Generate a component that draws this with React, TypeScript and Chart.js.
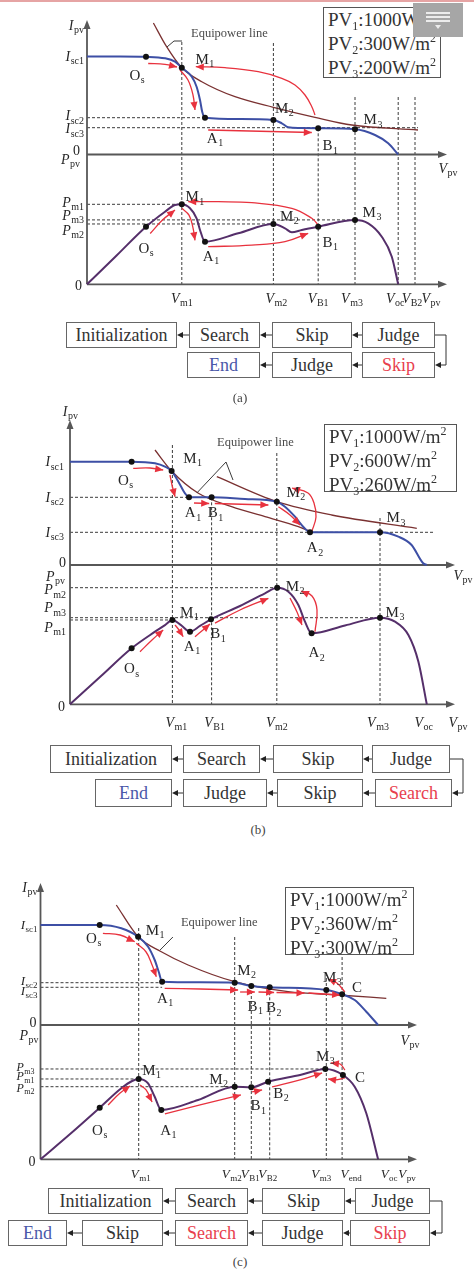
import React, { useEffect, useRef } from "react";
import { Chart, registerables } from "chart.js";

Chart.register(...registerables);

type P2 = [number, number];
type Lbl = [string, string, number, number];
type Tick = [number, string, number];

const FONT = '"Liberation Serif", "Times New Roman", Times, serif';
const BLUE = "#3d4fa5";
const PURPLE = "#552f6a";
const RED = "#e8323e";
const EQC = "#7a3131";
const AXIS = "#575757";
const GUIDE = "#3c3c3c";
const INK = "#262626";

// ================= (a) PV1 1000, PV2 300, PV3 200 W/m2 =================
const A_IV: P2[] = [[0, 9.8], [8.25, 9.8], [14.75, 9.77], [19.5, 9.62], [22, 9.28], [23.7, 8.68], [26.2, 7.78], [27.4, 6.78], [28.25, 5.45], [28.8, 4.28], [29.5, 3.68], [38.25, 3.55], [46.6, 3.45], [48.7, 3.12], [50.3, 2.72], [53.25, 2.65], [57.8, 2.62], [67, 2.52], [72, 1.95], [75.3, 1.12], [77.8, 0]];
const A_PV: P2[] = [[0, 0], [7.4, 72], [14.75, 144], [19.5, 181.5], [22, 198.3], [23.7, 200], [25.75, 190], [27.4, 165], [28.25, 135.8], [29.5, 106.5], [37.8, 127.5], [46.6, 150.8], [49.5, 140], [51.2, 130], [53.7, 135.8], [57.8, 144], [67, 160.8], [70.3, 152.5], [73.7, 119], [76.2, 69], [77.8, 0]];
const A_EQ: P2[] = [[16.6, 13.15], [19.9, 10.78], [23.7, 8.68], [28.7, 7.28], [37, 5.78], [46.6, 4.72], [57, 3.72], [66.2, 2.95], [82.75, 2.45]];
const A_IV_PTS: P2[] = [[14.75, 9.77], [23.7, 8.68], [29.5, 3.68], [46.6, 3.45], [57.8, 2.62], [67, 2.52]];
const A_PV_PTS: P2[] = [[14.75, 144], [23.7, 200], [29.5, 106.5], [46.6, 150.8], [57.8, 144], [67, 160.8]];
const A_IV_ARROWS: P2[][] = [
  [[15.3, 9.1], [19.5, 9.02], [22.5, 8.75]],
  [[23.25, 8.45], [25.25, 7.45], [26.5, 5.95], [27, 4.45]],
  [[30.3, 2.45], [56.2, 2.2]],
  [[57, 3.95], [56.2, 4.78], [54.5, 5.95], [52, 6.95], [48.7, 7.62], [42.8, 8.28], [34.5, 8.68], [27.2, 8.78]],
];
const A_PV_ARROWS: P2[][] = [
  [[15.8, 127], [18.8, 160], [22, 186]],
  [[23.7, 190], [25.5, 173], [26.5, 141], [27, 110]],
  [[30.3, 94], [41.2, 98], [49.5, 106.5], [55.3, 127.5]],
  [[57.8, 148], [56.2, 165], [51.2, 190], [41.2, 204], [32.8, 206.5], [25.3, 206.5]],
];
const A_ISC = [9.8, 3.68, 2.68];
const A_PM = [200, 150.8, 161];
const A_V = { m1: 23.7, m2: 46.6, B1: 57.8, m3: 67, oc: 77.8, B2: 82 };
const A_LEGEND = [1000, 300, 200];

// ================= (b) PV1 1000, PV2 600, PV3 260 W/m2 =================
const B_IV: P2[] = [[0, 10.33], [7.5, 10.33], [15.4, 10.33], [21.25, 10.17], [23.75, 9.83], [25.4, 9.4], [27.1, 8.33], [28.75, 7.17], [29.75, 6.77], [35.4, 6.77], [43.75, 6.6], [51.7, 6.33], [53.75, 5.83], [56.25, 4.83], [58.3, 3.83], [60, 3.27], [68.75, 3.27], [77.5, 3.27], [82.1, 2.83], [85.4, 2.0], [88.3, 0.17], [89.2, 0]];
const B_PV: P2[] = [[0, 0], [7.7, 70], [15.4, 140], [21.25, 181.5], [23.75, 198], [25.6, 210.8], [27.75, 198], [30, 181.5], [32.5, 195.8], [35.25, 212.5], [42.5, 245.8], [48.75, 277.5], [51.8, 291.5], [54.6, 281.5], [57.1, 248.3], [58.75, 206.5], [60.4, 177.5], [68.75, 197], [77.5, 216.5], [81.25, 206.5], [84.6, 173.3], [87.1, 106.5], [89.2, 0]];
const B_EQ1: P2[] = [[21.25, 11.5], [25.4, 9.4], [32.1, 7.17], [40.4, 5.83], [48.75, 4.83], [57.1, 3.83], [60.4, 3.3]];
const B_EQ2: P2[] = [[36.7, 8.83], [51.7, 6.33], [65.4, 5.0], [86.7, 3.67]];
const B_IV_PTS: P2[] = [[15.4, 10.33], [25.4, 9.4], [29.75, 6.77], [35.4, 6.77], [51.7, 6.33], [60, 3.27], [77.5, 3.27]];
const B_PV_PTS: P2[] = [[15.4, 140], [25.6, 210.8], [30, 181.5], [35.25, 212.5], [51.8, 291.5], [60.4, 177.5], [77.5, 216.5]];
const B_IV_ARROWS: P2[][] = [
  [[15.8, 9.67], [20, 9.7], [23.3, 9.5]],
  [[25, 9.0], [25.5, 8.0], [26.25, 6.83]],
  [[31, 6.2], [34.8, 6.15]],
  [[36.2, 6.15], [49.6, 6.0]],
  [[52.1, 5.83], [55, 5.0], [57.5, 4.0]],
  [[60.5, 3.4], [61.5, 4.8], [61, 6.2], [59.5, 7.2], [55.5, 7.7]],
];
const B_PV_ARROWS: P2[][] = [
  [[17.5, 131.5], [20.5, 160.8], [23.3, 185.8]],
  [[26.25, 198.3], [27.25, 185.8], [28.3, 169]],
  [[31.25, 169], [33.25, 185.8], [35, 200.8]],
  [[36.25, 203], [42.5, 235.8], [49.6, 265]],
  [[55, 265.8], [56.75, 230.8], [58, 198.3]],
  [[61.25, 181.5], [61.75, 235.8], [60.5, 270.8], [57.75, 283.3]],
];
const B_ISC = [10.33, 6.77, 3.27];
const B_PM = [210.8, 291.5, 216.5];
const B_V = { m1: 25.6, B1: 35.4, m2: 51.7, m3: 77.5, oc: 89.2 };
const B_LEGEND = [1000, 600, 260];

// ================= (c) PV1 1000, PV2 360, PV3 300 W/m2 =================
const C_IV: P2[] = [[0, 10], [7.4, 10], [14.8, 10], [20.2, 9.67], [24.4, 8.83], [26.9, 7.83], [28.55, 6.5], [29.55, 5.33], [30.4, 4.33], [39.9, 4.27], [48.55, 4.23], [52.7, 3.9], [57.3, 3.77], [71.45, 3.5], [75.4, 3.07], [78.55, 2.5], [81.45, 1.33], [84.4, 0]];
const C_PV: P2[] = [[0, 0], [7.4, 63.3], [14.8, 129], [20.2, 177.5], [22.9, 195.8], [24.55, 200.8], [26.9, 190], [28.55, 156.5], [30.2, 123.3], [39.4, 148.3], [48.55, 181.5], [52.7, 180], [56.9, 194], [64.9, 210.8], [71.2, 225.8], [75.6, 210.8], [78.55, 181.5], [81.45, 115], [84.4, 0]];
const C_EQ: P2[] = [[18.95, 12], [24.4, 8.83], [30.2, 7.33], [36.9, 6.0], [48.55, 4.33], [61.9, 3.33], [74.4, 3.0], [86.45, 2.67]];
const C_IV_PTS: P2[] = [[14.8, 10], [24.4, 8.83], [30.4, 4.33], [48.55, 4.23], [52.7, 3.9], [57.3, 3.77], [71.45, 3.5], [75.4, 3.07]];
const C_PV_PTS: P2[] = [[14.8, 129], [24.55, 200.8], [30.2, 123.3], [48.55, 181.5], [52.7, 180], [56.9, 194], [71.2, 225.8], [75.6, 210.8]];
const C_IV_ARROWS: P2[][] = [
  [[15.6, 9.17], [19.9, 9.0], [23.55, 8.33]],
  [[23.95, 8.17], [26.4, 7.3], [27.9, 6.0], [28.95, 4.83]],
  [[31.05, 3.67], [39.9, 3.6], [49.4, 3.5]],
  [[49.9, 3.3], [53.6, 3.3]],
  [[54.5, 3.3], [58.4, 3.25]],
  [[59, 3.25], [66, 3.2]],
  [[67, 3.2], [74.9, 3.0]],
  [[76.1, 3.3], [74.1, 4.2], [71.9, 4.6]],
];
const C_PV_ARROWS: P2[][] = [
  [[16.9, 135.8], [19.9, 165.8], [22.4, 183.3]],
  [[24.9, 185.8], [26.4, 173.3], [27.9, 143.3]],
  [[31.1, 113.3], [39.9, 135.8], [50.1, 160.8]],
  [[52.9, 168.3], [55.4, 173.3]],
  [[57.9, 180.8], [64.9, 198.3], [70.4, 215.8]],
  [[76.1, 223.3], [74.9, 238.3], [72.6, 240.8]],
  [[76.1, 203.3], [73.6, 198.3], [71.9, 200.8]],
];
const C_ISC = [10, 4.23, 3.77];
const C_PM = [200.8, 181.5, 225.8];
const C_V = { m1: 24.55, m2: 48.55, B1: 52.7, B2: 57.3, m3: 71.45, end: 75.4, oc: 84.4 };
const C_LEGEND = [1000, 360, 300];

// ================= flow charts =================
const A_FLOW1 = ["Initialization", "Search", "Skip", "Judge"];
const A_FLOW2 = ["End", "Judge", "Skip"];
const A_FLOW2_COL = ["blue", "", "red"];
const B_FLOW1 = ["Initialization", "Search", "Skip", "Judge"];
const B_FLOW2 = ["End", "Judge", "Skip", "Search"];
const B_FLOW2_COL = ["blue", "", "", "red"];
const C_FLOW1 = ["Initialization", "Search", "Skip", "Judge"];
const C_FLOW2 = ["End", "Skip", "Search", "Judge", "Skip"];
const C_FLOW2_COL = ["blue", "", "red", "", "red"];

// ================= layout specs =================
const SPECS: any[] = [
  {
    key: "a", top: 0, height: 312, x0: 87, xEnd: 447, iZero: 154.5, pZero: 284.3, areaTop: 10,
    vpx: 0.25, ipx: 0.1, ppx: 2.5, iTop: 13.45,
    iv: A_IV, pv: A_PV, eq: [A_EQ], ivPts: A_IV_PTS, pvPts: A_PV_PTS, ivArrows: A_IV_ARROWS, pvArrows: A_PV_ARROWS,
    vGuides: [[A_V.m1, 11.25], [A_V.m2, 11.15], [A_V.B1, A_ISC[2] - 0.06], [A_V.m3, 5.75], [A_V.oc, 5.75], [A_V.B2, 5.75]],
    hI: [[A_ISC[1], 29.5], [A_ISC[2], 82.75]],
    hP: [[A_PM[0], A_V.m1], [A_PM[2], A_V.m3], [A_PM[1], A_V.m2]],
    vTicks: [[A_V.m1, "m1", 0], [A_V.m2, "m2", 3], [A_V.B1, "B1", 0], [A_V.m3, "m3", -3], [A_V.oc, "oc", -3], [A_V.B2, "B2", -3]] as Tick[],
    iTicks: [[A_ISC[0], "sc1", 0], [A_ISC[1], "sc2", -2], [A_ISC[2], "sc3", 1]] as Tick[],
    pTicks: [[A_PM[0], "m1", -2], [A_PM[2], "m3", -5], [A_PM[1], "m2", 6]] as Tick[],
    tickSize: 14, pTickSize: 14, iGap: 3, pGap: 3,
    ivLbl: [["O", "s", -9, 18], ["M", "1", 23, -9], ["A", "1", 10, 20], ["M", "2", 11, -12], ["B", "1", 12, 17], ["M", "3", 18, -10]] as Lbl[],
    pvLbl: [["O", "s", 0, 21], ["M", "1", 13, -8], ["A", "1", 6, 14], ["M", "2", 16, -8], ["B", "1", 12, 15], ["M", "3", 17, -8]] as Lbl[],
    eqText: [26, 12.05], eqLeader: [[[20, 10.75], [21.75, 11.35], [23.75, 11.35]]],
    names: { ipv: [-3, 5], zero: [-7, -4], ppv: [-7, 5], vpvI: [1, 14], origin: [-5, 1], vTickDy: 14, vpvB: [-16, 14] },
  },
  {
    key: "b", top: 400, height: 340, x0: 70, xEnd: 455, iZero: 565, pZero: 704.3, areaTop: 10,
    vpx: 0.25, ipx: 0.1, ppx: 2.5, iTop: 14.5,
    iv: B_IV, pv: B_PV, eq: [B_EQ1, B_EQ2], ivPts: B_IV_PTS, pvPts: B_PV_PTS, ivArrows: B_IV_ARROWS, pvArrows: B_PV_ARROWS,
    vGuides: [[B_V.m1, 12], [B_V.B1, B_ISC[1]], [B_V.m2, 11.2], [B_V.m3, 4.7]],
    hI: [[B_ISC[1], 29.75], [B_ISC[2], 91.25]],
    hP: [[B_PM[1], 51.8], [B_PM[2], B_V.m3], [B_PM[0], B_V.m1]],
    vTicks: [[B_V.m1, "m1", 4], [B_V.B1, "B1", 3], [B_V.m2, "m2", 0], [B_V.m3, "m3", -2], [B_V.oc, "oc", -3]] as Tick[],
    iTicks: [[B_ISC[0], "sc1", 0], [B_ISC[1], "sc2", 0], [B_ISC[2], "sc3", 0]] as Tick[],
    pTicks: [[B_PM[1], "m2", 2], [B_PM[2], "m3", -10], [B_PM[0], "m1", 7]] as Tick[],
    tickSize: 14, pTickSize: 14, iGap: 6, pGap: 4,
    ivLbl: [["O", "s", -6, 18], ["M", "1", 21, -13], ["A", "1", 4, 15], ["B", "1", 4, 15], ["M", "2", 19, -10], ["A", "2", 5, 15], ["M", "3", 16, -15]] as Lbl[],
    pvLbl: [["O", "s", 0, 20], ["M", "1", 17, -8], ["A", "1", 2, 14], ["B", "1", 7, 14], ["M", "2", 18, -2], ["A", "2", 5, 19], ["M", "3", 15, -6]] as Lbl[],
    eqText: [36.75, 12.2], eqLeader: [[[31.7, 7.2], [39, 10.3], [40.75, 8.5]]],
    names: { ipv: [8, -9], zero: [-4, -3], ppv: [-5, 11], vpvI: [8, 10], origin: [-5, 2], vTickDy: 18, vpvB: [3, 18] },
  },
  {
    key: "c", top: 870, height: 315, x0: 40.5, xEnd: 417, iZero: 1025, pZero: 1159.3, areaTop: 10,
    vpx: 0.25, ipx: 0.1, ppx: 2.5, iTop: 14.2,
    iv: C_IV, pv: C_PV, eq: [C_EQ], ivPts: C_IV_PTS, pvPts: C_PV_PTS, ivArrows: C_IV_ARROWS, pvArrows: C_PV_ARROWS,
    vGuides: [[C_V.m1, 9.7], [C_V.m2, 8.8], [C_V.B1, 3.9], [C_V.B2, 3.77], [C_V.m3, 5.2], [C_V.end, 6.8]],
    hI: [[C_ISC[1], 30.4], [C_ISC[2], 30.4]],
    hP: [[C_PM[2], 71.2], [C_PM[0], C_V.m1], [C_PM[1], C_V.m2]],
    vTicks: [[C_V.m1, "m1", 2], [C_V.m2, "m2", -3], [C_V.B1, "B1", -1], [C_V.B2, "B2", -2], [C_V.m3, "m3", -5], [C_V.end, "end", 9], [C_V.oc, "oc", 11]] as Tick[],
    iTicks: [[C_ISC[0], "sc1", 0], [C_ISC[1], "sc2", -2], [C_ISC[2], "sc3", 3]] as Tick[],
    pTicks: [[C_PM[2], "m3", -2], [C_PM[0], "m1", -3], [C_PM[1], "m2", 1]] as Tick[],
    tickSize: 13, pTickSize: 12, iGap: 3, pGap: 6,
    ivLbl: [["O", "s", -6, 13], ["M", "1", 17, -7], ["A", "1", 3, 16], ["M", "2", 12, -13], ["B", "1", 4, 20], ["B", "2", 4, 20], ["M", "3", 6, -13], ["C", "", 15, -7]] as Lbl[],
    pvLbl: [["O", "s", 0, 22], ["M", "1", 13, -9], ["A", "1", 7, 20], ["M", "2", -16, -8], ["B", "1", 7, 18], ["B", "2", 13, 11], ["M", "3", 0, -13], ["C", "", 17, 2]] as Lbl[],
    eqText: [35.1, 10.2], eqLeader: [[[29.9, 7.5], [33.1, 8.8]]],
    names: { ipv: [-3, 4], zero: [-4, -3], ppv: [-2, 10], vpvI: [-7, 15], origin: [-5, 2], vTickDy: 14, vpvB: [-10, 14] },
  },
];

// ================= drawing helpers =================
function head(ctx: any, x: number, y: number, ang: number, len: number, hw: number) {
  const bx = x - len * Math.cos(ang), by = y - len * Math.sin(ang);
  const px = -Math.sin(ang) * hw, py = Math.cos(ang) * hw;
  ctx.beginPath();
  ctx.moveTo(x, y);
  ctx.lineTo(bx + px, by + py);
  ctx.lineTo(bx - px, by - py);
  ctx.closePath();
  ctx.fill();
}

function sym(ctx: any, x: number, y: number, main: string, sub: string, o: any) {
  const fs = o.size || 15;
  const ss = o.subSize || Math.round(fs * 0.68);
  const mf = `${o.italic ? "italic " : ""}${fs}px ${FONT}`;
  const sf = `${ss}px ${FONT}`;
  ctx.font = mf;
  const w1 = ctx.measureText(main).width;
  ctx.font = sf;
  const w2 = sub ? ctx.measureText(sub).width + 0.5 : 0;
  const w = w1 + w2;
  const sx = o.align === "center" ? x - w / 2 : o.align === "right" ? x - w : x;
  const base = y + fs * 0.34;
  ctx.textBaseline = "alphabetic";
  ctx.textAlign = "left";
  ctx.fillStyle = o.color || INK;
  ctx.font = mf;
  ctx.fillText(main, sx, base);
  if (sub) {
    ctx.font = sf;
    ctx.fillText(sub, sx + w1 + 0.5, base + fs * 0.22);
  }
}

function figurePlugin(s: any) {
  return {
    id: "figure_" + s.key,
    beforeDatasetsDraw(chart: any) {
      const ctx = chart.ctx;
      const X = (v: number) => chart.scales.x.getPixelForValue(v);
      const YI = (v: number) => chart.scales.yI.getPixelForValue(v);
      const YP = (v: number) => chart.scales.yP.getPixelForValue(v);
      const xMax = chart.scales.x.max;
      const seg = (x1: number, y1: number, x2: number, y2: number) => {
        ctx.beginPath();
        ctx.moveTo(x1, y1);
        ctx.lineTo(x2, y2);
        ctx.stroke();
      };
      ctx.save();
      ctx.lineWidth = 1;
      ctx.strokeStyle = GUIDE;
      ctx.setLineDash([3, 2]);
      s.vGuides.forEach(([v, i]: P2) => seg(X(v), YI(i), X(v), YP(0)));
      s.hI.forEach(([i, v]: P2) => seg(X(0), YI(i), X(v), YI(i)));
      s.hP.forEach(([p, v]: P2) => seg(X(0), YP(p), X(v), YP(p)));
      ctx.setLineDash([]);
      ctx.strokeStyle = AXIS;
      ctx.fillStyle = AXIS;
      ctx.lineWidth = 1.8;
      const ox = X(0);
      seg(ox, YI(s.iTop) + 6, ox, YP(0));
      head(ctx, ox, YI(s.iTop), -Math.PI / 2, 9, 3.5);
      seg(ox, YI(0), X(xMax) - 6, YI(0));
      head(ctx, X(xMax), YI(0), 0, 9, 3.5);
      seg(ox, YP(0), X(xMax) - 6, YP(0));
      head(ctx, X(xMax), YP(0), 0, 9, 3.5);
      ctx.restore();
    },
    afterDatasetsDraw(chart: any) {
      const ctx = chart.ctx;
      const X = (v: number) => chart.scales.x.getPixelForValue(v);
      const YI = (v: number) => chart.scales.yI.getPixelForValue(v);
      const YP = (v: number) => chart.scales.yP.getPixelForValue(v);
      const xMax = chart.scales.x.max;
      ctx.save();
      // arrow heads at the end of each red path
      ctx.fillStyle = RED;
      chart.data.datasets.forEach((ds: any, i: number) => {
        if (!ds.arrow) return;
        const els = chart.getDatasetMeta(i).data as any[];
        const p = els[els.length - 1];
        let qx = p.cp1x, qy = p.cp1y;
        if (qx === undefined || Math.hypot(p.x - qx, p.y - qy) < 1) {
          qx = els[els.length - 2].x;
          qy = els[els.length - 2].y;
        }
        head(ctx, p.x, p.y, Math.atan2(p.y - qy, p.x - qx), 8, 3.6);
      });
      // point labels
      s.ivPts.forEach((pt: P2, k: number) => {
        const [m, sub, dx, dy] = s.ivLbl[k];
        sym(ctx, X(pt[0]) + dx, YI(pt[1]) + dy, m, sub, { size: 15, align: "center" });
      });
      s.pvPts.forEach((pt: P2, k: number) => {
        const [m, sub, dx, dy] = s.pvLbl[k];
        sym(ctx, X(pt[0]) + dx, YP(pt[1]) + dy, m, sub, { size: 15, align: "center" });
      });
      const ox = X(0);
      const n = s.names;
      // axis ticks
      s.vTicks.forEach(([v, sub, dx]: Tick) =>
        sym(ctx, X(v) + dx, YP(0) + n.vTickDy, "V", sub, { size: s.tickSize, italic: true, align: "center" }));
      sym(ctx, X(xMax) + n.vpvB[0], YP(0) + n.vpvB[1], "V", "pv", { size: s.tickSize, italic: true, align: "center" });
      s.iTicks.forEach(([v, sub, dy]: Tick) =>
        sym(ctx, ox - s.iGap, YI(v) + dy, "I", sub, { size: s.tickSize, italic: true, align: "right" }));
      s.pTicks.forEach(([v, sub, dy]: Tick) =>
        sym(ctx, ox - s.pGap, YP(v) + dy, "P", sub, { size: s.pTickSize, italic: true, align: "right" }));
      // axis names and zeros
      sym(ctx, ox + n.ipv[0], YI(s.iTop) + n.ipv[1], "I", "pv", { size: 14, italic: true, align: "right" });
      sym(ctx, ox + n.zero[0], YI(0) + n.zero[1], "0", "", { size: 14, align: "right" });
      sym(ctx, ox + n.ppv[0], YI(0) + n.ppv[1], "P", "pv", { size: 14, italic: true, align: "right" });
      sym(ctx, X(xMax) + n.vpvI[0], YI(0) + n.vpvI[1], "V", "pv", { size: 14, italic: true, align: "center" });
      sym(ctx, ox + n.origin[0], YP(0) + n.origin[1], "0", "", { size: 14, align: "right" });
      // equipower label
      ctx.fillStyle = "#4a4a4a";
      ctx.font = `12.5px ${FONT}`;
      ctx.textBaseline = "middle";
      ctx.fillText("Equipower line", X(s.eqText[0]), YI(s.eqText[1]));
      ctx.strokeStyle = "#3a3a3a";
      ctx.lineWidth = 1;
      s.eqLeader.forEach((path: P2[]) => {
        ctx.beginPath();
        path.forEach(([v, i], k) => (k ? ctx.lineTo(X(v), YI(i)) : ctx.moveTo(X(v), YI(i))));
        ctx.stroke();
      });
      ctx.restore();
    },
  };
}

function buildConfig(s: any) {
  const iZ = s.iZero - s.top;
  const pZ = s.pZero - s.top;
  const xy = (a: P2[]) => a.map(([x, y]) => ({ x, y }));
  const datasets: any[] = [];
  const dot = { showLine: false, pointRadius: 3, pointBackgroundColor: "#121212", pointBorderColor: "#121212", pointBorderWidth: 0, order: 0, clip: false };
  datasets.push({ ...dot, data: xy(s.ivPts), yAxisID: "yI" });
  datasets.push({ ...dot, data: xy(s.pvPts), yAxisID: "yP" });
  const arrowStyle = { borderColor: RED, borderWidth: 1.3, tension: 0.4, pointRadius: 0, order: 1, clip: false, arrow: true };
  s.ivArrows.forEach((p: P2[]) => datasets.push({ ...arrowStyle, data: xy(p), yAxisID: "yI" }));
  s.pvArrows.forEach((p: P2[]) => datasets.push({ ...arrowStyle, data: xy(p), yAxisID: "yP" }));
  datasets.push({ data: xy(s.iv), yAxisID: "yI", borderColor: BLUE, borderWidth: 2, cubicInterpolationMode: "monotone", pointRadius: 0, order: 2, clip: false });
  datasets.push({ data: xy(s.pv), yAxisID: "yP", borderColor: PURPLE, borderWidth: 2, cubicInterpolationMode: "monotone", pointRadius: 0, order: 2, clip: false });
  s.eq.forEach((e: P2[]) =>
    datasets.push({ data: xy(e), yAxisID: "yI", borderColor: EQC, borderWidth: 1.3, cubicInterpolationMode: "monotone", pointRadius: 0, order: 3, clip: false }));
  return {
    type: "line",
    data: { datasets },
    options: {
      responsive: false,
      animation: false,
      events: [],
      layout: { padding: { left: s.x0, right: 474 - s.xEnd, top: s.areaTop, bottom: s.height - pZ } },
      plugins: { legend: { display: false }, tooltip: { enabled: false }, title: { display: false } },
      elements: { line: { capBezierPoints: false, fill: false }, point: { radius: 0, hoverRadius: 0 } },
      scales: {
        x: { type: "linear", display: false, min: 0, max: (s.xEnd - s.x0) * s.vpx },
        yI: { type: "linear", axis: "y", display: false, min: -(pZ - iZ) * s.ipx, max: (iZ - s.areaTop) * s.ipx },
        yP: { type: "linear", axis: "y", display: false, min: 0, max: (pZ - s.areaTop) * s.ppx },
      },
    },
    plugins: [figurePlugin(s)],
  };
}

function PanelChart({ spec }: { spec: any }) {
  const ref = useRef<HTMLCanvasElement>(null);
  useEffect(() => {
    const chart = new Chart(ref.current as HTMLCanvasElement, buildConfig(spec) as any);
    return () => chart.destroy();
  }, [spec]);
  return (
    <canvas ref={ref} width={474} height={spec.height}
      style={{ position: "absolute", left: 0, top: spec.top, width: 474, height: spec.height, display: "block" }} />
  );
}

function Legend({ left, top, width, height, values }: any) {
  return (
    <div style={{ position: "absolute", left, top, width, height, boxSizing: "border-box", border: "1.5px solid #555", background: "#fff", font: `19px ${FONT}`, color: "#333", lineHeight: "22px", padding: "1px 0 0 4px", whiteSpace: "nowrap" }}>
      {values.map((v: number, k: number) => (
        <div key={k}>
          PV<span style={{ fontSize: 12, position: "relative", top: 4 }}>{k + 1}</span>:{v}W/m
          <span style={{ fontSize: 12, position: "relative", top: -8 }}>2</span>
        </div>
      ))}
    </div>
  );
}

const TEXT_COL: any = { blue: "#4a58a8", red: "#e8404e", "": "#333" };

function Flow({ y1, y2, h, xs1, xs2, cx, row1, row2, cols2, caption, capX, capY }: any) {
  const box = (x1: number, x2: number, y: number, text: string, col: string, key: string) => (
    <div key={key} style={{ position: "absolute", left: x1, top: y, width: x2 - x1, height: h, boxSizing: "border-box", border: "1px solid #666", background: "#fff", display: "flex", alignItems: "center", justifyContent: "center", font: `18px ${FONT}`, color: TEXT_COL[col] }}>{text}</div>
  );
  const c1 = y1 + h / 2, c2 = y2 + h / 2;
  const arrows: any[] = [];
  const gaps = (xs: number[][], cy: number, tag: string) => {
    for (let k = 0; k + 1 < xs.length; k++) {
      const a = xs[k][1], b = xs[k + 1][0];
      arrows.push(<line key={tag + k} x1={a + 4} y1={cy} x2={b} y2={cy} stroke="#333" strokeWidth={1} />);
      arrows.push(<polygon key={tag + "h" + k} points={`${a},${cy} ${a + 6},${cy - 3} ${a + 6},${cy + 3}`} fill="#222" />);
    }
  };
  gaps(xs1, c1, "r1");
  gaps(xs2, c2, "r2");
  const r1 = xs1[xs1.length - 1][1], r2 = xs2[xs2.length - 1][1];
  return (
    <>
      {row1.map((t: string, k: number) => box(xs1[k][0], xs1[k][1], y1, t, "", "a" + k))}
      {row2.map((t: string, k: number) => box(xs2[k][0], xs2[k][1], y2, t, cols2[k], "b" + k))}
      <svg width={474} height={h * 2 + (y2 - y1)} style={{ position: "absolute", left: 0, top: 0, overflow: "visible", pointerEvents: "none" }}>
        {arrows}
        <polyline points={`${r1},${c1} ${cx},${c1} ${cx},${c2} ${r2 + 4},${c2}`} fill="none" stroke="#333" strokeWidth={1} />
        <polygon points={`${r2},${c2} ${r2 + 6},${c2 - 3} ${r2 + 6},${c2 + 3}`} fill="#222" />
      </svg>
      <div style={{ position: "absolute", left: capX - 20, width: 40, top: capY - 8, textAlign: "center", font: `13px ${FONT}`, color: "#444" }}>{caption}</div>
    </>
  );
}

export default function App() {
  return (
    <div style={{ position: "absolute", left: 0, top: 0, width: 474, height: 1272, background: "#fff", overflow: "hidden" }}>
      <div style={{ position: "absolute", left: 0, top: 0, width: 474, height: 2, background: "#e6a4a4" }} />
      {SPECS.map((s) => <PanelChart key={s.key} spec={s} />)}
      <Legend left={323} top={7} width={118} height={71} values={A_LEGEND} />
      <div style={{ position: "absolute", left: 413, top: 3, width: 50, height: 34, background: "#a6a6a6" }}>
        {[9, 13, 17].map((t) => <div key={t} style={{ position: "absolute", left: 13, top: t, width: 24, height: 2, background: "#ececec" }} />)}
        <div style={{ position: "absolute", left: 22, top: 22, width: 0, height: 0, borderLeft: "3px solid transparent", borderRight: "3px solid transparent", borderTop: "4px solid #ececec" }} />
      </div>
      <Legend left={324} top={424} width={133} height={68} values={B_LEGEND} />
      <Legend left={285} top={887} width={129} height={68} values={C_LEGEND} />
      <Flow y1={322} y2={352} h={26} cx={446}
        xs1={[[66, 177], [189, 260], [272, 352], [362, 435]]} xs2={[[187, 260], [272, 352], [362, 435]]}
        row1={A_FLOW1} row2={A_FLOW2} cols2={A_FLOW2_COL} caption="(a)" capX={240} capY={398} />
      <Flow y1={745} y2={779} h={28} cx={463}
        xs1={[[50, 172], [183, 260], [273, 363], [372, 450]]} xs2={[[95, 172], [183, 267], [277, 363], [375, 452]]}
        row1={B_FLOW1} row2={B_FLOW2} cols2={B_FLOW2_COL} caption="(b)" capX={258} capY={830} />
      <Flow y1={1188} y2={1220} h={26} cx={442}
        xs1={[[48, 163], [175, 248], [262, 345], [355, 430]]} xs2={[[8, 67], [82, 163], [175, 248], [262, 343], [350, 430]]}
        row1={C_FLOW1} row2={C_FLOW2} cols2={C_FLOW2_COL} caption="(c)" capX={240} capY={1262} />
    </div>
  );
}
